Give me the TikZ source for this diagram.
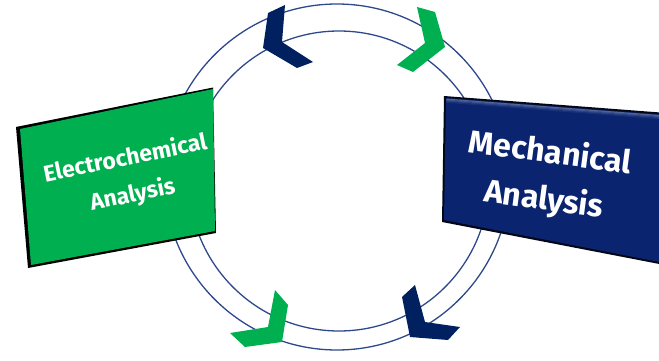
\documentclass[tikz,border=0pt]{standalone}
\usepackage{fontspec}
\setmainfont{Fira Sans}
\usepackage{tikz}
\definecolor{ringblue}{RGB}{46,72,140}
\definecolor{cyclegreen}{RGB}{0,176,80}
\definecolor{cyclenavy}{RGB}{0,32,96}
\definecolor{panelnavy}{RGB}{10,36,112}
\tikzset{
  ring/.style={draw=ringblue, line width=1.3pt},
  boxtext/.style={text=white, align=center},
}

\begin{document}
\begin{tikzpicture}[x=1pt,y=-1pt]
  \useasboundingbox (0,0) rectangle (659,361);
  \clip (0,0) rectangle (659,361);

  % the two rings
  \draw[ring] (337,177) circle[radius=173pt];
  \draw[ring] (339,181) circle[radius=150pt];

  % chevrons sitting on the rings
  \fill[cyclenavy] (285,5) -- (268,13) -- (263,48) -- (297,68) -- (313,62) -- (282,42) -- cycle;
  \fill[cyclegreen] (417,7) -- (435,12) -- (445,47) -- (413,72) -- (397,65) -- (425,43) -- cycle;
  \fill[cyclegreen] (275,290) -- (288,305) -- (282,342) -- (245,347) -- (230,333) -- (268,327) -- cycle;
  \fill[cyclenavy] (415,285) -- (402,297) -- (410,337) -- (448,340) -- (460,327) -- (425,322) -- cycle;

  % green panel with its dark edge
  \fill[black] (16,127) -- (213,87.5) -- (216,233) -- (28,268) -- cycle;
  \fill[cyclegreen] (20,129) -- (213,89) -- (215,231) -- (31,265) -- cycle;
  \node (electro) [boxtext, rotate=11.5, font=\fontsize{23}{37}\selectfont\bfseries]
    at (129,177) {Electrochemical\\Analysis};

  % navy panel, running off to the right
  \fill[black!80!panelnavy] (444,96) -- (680,114) -- (680,268) -- (442,222) -- cycle;
  \fill[panelnavy] (446,98) -- (680,116) -- (680,266) -- (444,220) -- cycle;
  \foreach \k/\c in {0/70,1/78,2/86,3/94}
    \draw[panelnavy!\c!white, line width=1.2pt]
      (446.5,99.2+\k) -- (680,117.2+\k);
  \node (mech) [boxtext, rotate=-7.5, font=\fontsize{32}{47}\selectfont\bfseries]
    at (547,177) {Mechanical\\Analysis};
\end{tikzpicture}
\end{document}
